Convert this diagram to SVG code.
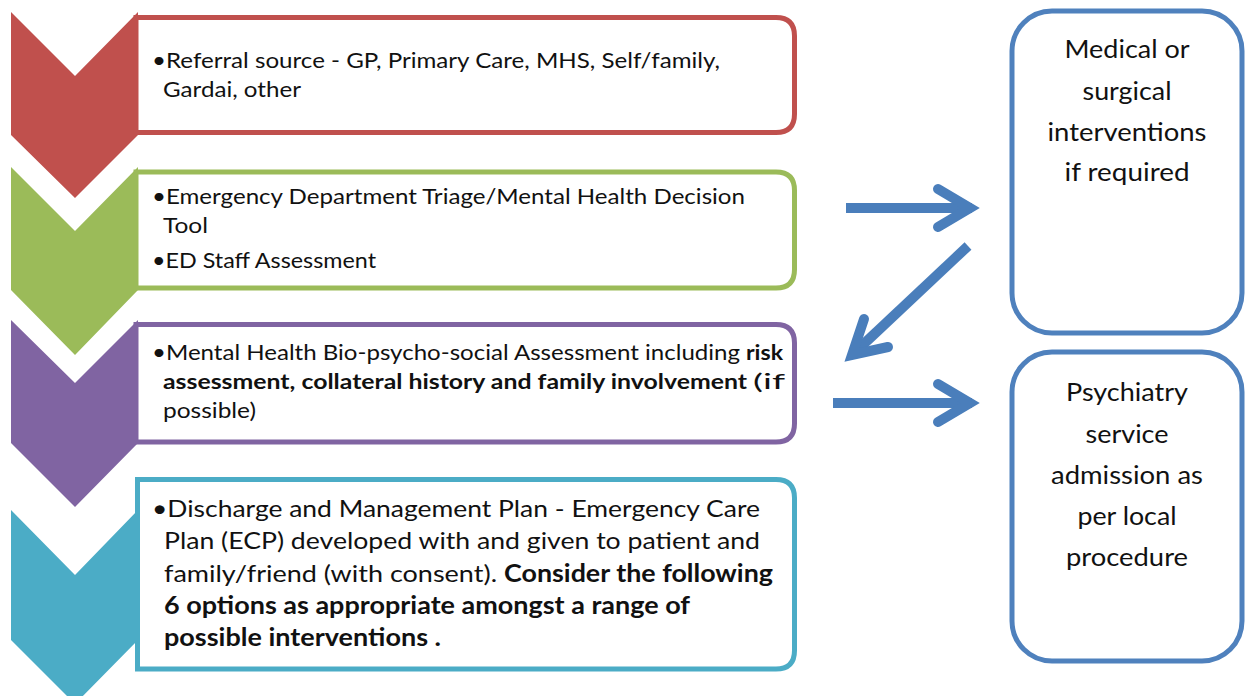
<svg xmlns="http://www.w3.org/2000/svg" width="1247" height="696" viewBox="0 0 1247 696">
<style>
.t{font-family:Lato,"Liberation Sans",sans-serif;font-size:21px;fill:#111}
.t4{font-family:Lato,"Liberation Sans",sans-serif;font-size:24px;fill:#111}
.b{font-weight:bold}
.r{font-family:Lato,"Liberation Sans",sans-serif;font-size:25px;fill:#111;text-anchor:middle}
.box{fill:#fff;stroke-width:5}
.rb{fill:#fff;stroke:#4F81BD;stroke-width:5}
.arr{fill:none;stroke:#4A7EBB;stroke-width:10}
</style>
<rect width="1247" height="696" fill="#fff"/>
<g id="step1">
<polygon points="11,12 75,76 138,12 138,135 75,198 11,135" fill="#C0504D"/>
<path class="box" stroke="#C0504D" d="M136,17.5 H776 Q794.5,17.5 794.5,36 V114 Q794.5,132.5 776,132.5 H136 Z"/>
<text class="t" x="152" y="68" textLength="568" lengthAdjust="spacingAndGlyphs">•Referral source - GP, Primary Care, MHS, Self/family,</text>
<text class="t" x="163" y="97" textLength="138" lengthAdjust="spacingAndGlyphs">Gardai, other</text>
</g>
<g id="step2">
<polygon points="11,167 75,231 138,167 138,290 75,355 11,290" fill="#9BBB59"/>
<path class="box" stroke="#9BBB59" d="M136,172 H776 Q794.5,172 794.5,190.5 V269.5 Q794.5,288 776,288 H136 Z"/>
<text class="t" x="152" y="204" textLength="593" lengthAdjust="spacingAndGlyphs">•Emergency Department Triage/Mental Health Decision</text>
<text class="t" x="163" y="233" textLength="45" lengthAdjust="spacingAndGlyphs">Tool</text>
<text class="t" x="152" y="268" textLength="224" lengthAdjust="spacingAndGlyphs">•ED Staff Assessment</text>
</g>
<g id="step3">
<polygon points="11,320 75,383 138,320 138,443 75,507 11,443" fill="#8064A2"/>
<path class="box" stroke="#8064A2" d="M136,324.5 H776 Q794.5,324.5 794.5,343 V423.5 Q794.5,442 776,442 H136 Z"/>
<text class="t" x="152" y="360" textLength="588" lengthAdjust="spacingAndGlyphs">•Mental Health Bio-psycho-social Assessment including</text>
<text class="t b" x="746" y="360" textLength="37" lengthAdjust="spacingAndGlyphs">risk</text>
<text class="t b" x="163" y="389" textLength="584" lengthAdjust="spacingAndGlyphs">assessment, collateral history and family involvement</text>
<text class="t" x="753" y="389" textLength="32" lengthAdjust="spacingAndGlyphs">(if</text>
<text class="t" x="163" y="418" textLength="93" lengthAdjust="spacingAndGlyphs">possible)</text>
</g>
<g id="step4">
<polygon points="11,510 75,575 138,510 138,640 75,704 11,640" fill="#4BACC6"/>
<path class="box" stroke="#4BACC6" d="M137.5,479.5 H776 Q794.5,479.5 794.5,498 V650.5 Q794.5,669 776,669 H137.5 Z"/>
<text class="t4" x="152" y="517" textLength="608" lengthAdjust="spacingAndGlyphs">•Discharge and Management Plan - Emergency Care</text>
<text class="t4" x="164" y="549" textLength="596" lengthAdjust="spacingAndGlyphs">Plan (ECP) developed with and given to patient and</text>
<text class="t4" x="164" y="582" textLength="333" lengthAdjust="spacingAndGlyphs">family/friend (with consent).</text>
<text class="t4 b" x="504" y="582" textLength="269" lengthAdjust="spacingAndGlyphs">Consider the following</text>
<text class="t4 b" x="164" y="614" textLength="526" lengthAdjust="spacingAndGlyphs">6 options as appropriate amongst a range of</text>
<text class="t4 b" x="164" y="646" textLength="277" lengthAdjust="spacingAndGlyphs">possible interventions .</text>
</g>
<g id="medical">
<rect class="rb" x="1012" y="11" width="230" height="322" rx="40"/>
<text class="r" x="1127" y="58" textLength="125" lengthAdjust="spacingAndGlyphs">Medical or</text>
<text class="r" x="1127" y="100" textLength="89" lengthAdjust="spacingAndGlyphs">surgical</text>
<text class="r" x="1127" y="141" textLength="159" lengthAdjust="spacingAndGlyphs">interventions</text>
<text class="r" x="1127" y="181" textLength="125" lengthAdjust="spacingAndGlyphs">if required</text>
</g>
<g id="psychiatry">
<rect class="rb" x="1012" y="352" width="230" height="309" rx="40"/>
<text class="r" x="1127" y="401" textLength="122" lengthAdjust="spacingAndGlyphs">Psychiatry</text>
<text class="r" x="1127" y="443" textLength="83" lengthAdjust="spacingAndGlyphs">service</text>
<text class="r" x="1127" y="484" textLength="152" lengthAdjust="spacingAndGlyphs">admission as</text>
<text class="r" x="1127" y="525" textLength="99" lengthAdjust="spacingAndGlyphs">per local</text>
<text class="r" x="1127" y="566" textLength="122" lengthAdjust="spacingAndGlyphs">procedure</text>
</g>
<g id="connectors">
<line class="arr" x1="846" y1="208" x2="972" y2="208"/>
<polyline class="arr" points="938,189 970,208 938,227" stroke-linecap="round" stroke-linejoin="miter"/>
<line class="arr" x1="968" y1="246" x2="852" y2="355"/>
<polyline class="arr" points="864,319 852,355 888,347" stroke-linecap="round" stroke-linejoin="miter"/>
<line class="arr" x1="833" y1="403" x2="972" y2="403"/>
<polyline class="arr" points="938,384 970,403 938,422" stroke-linecap="round" stroke-linejoin="miter"/>
</g>
</svg>
